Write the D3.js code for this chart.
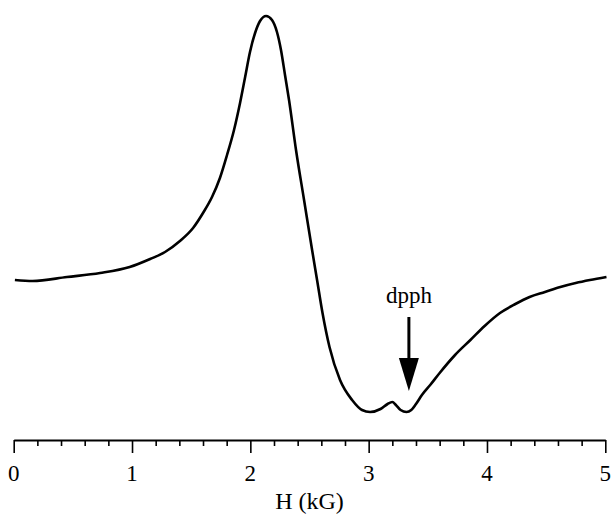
<!DOCTYPE html>
<html>
<head>
<meta charset="utf-8">
<script src="https://cdn.jsdelivr.net/npm/d3@7"></script>
<style>
  body { margin: 0; background: #fff; }
</style>
</head>
<body>
<div id="wrap"></div>
<script>
// field values (kG) and signal (arbitrary units)
var field = [0.01, 0.16, 0.45, 0.73, 0.98, 1.153, 1.279, 1.405, 1.516, 1.600, 1.676, 1.743, 1.803, 1.862, 1.913,
  1.956, 1.997, 2.040, 2.082, 2.133, 2.183, 2.225, 2.259, 2.293, 2.327, 2.386, 2.454, 2.522, 2.564, 2.610,
  2.669, 2.758, 2.860, 2.944, 3.012, 3.10, 3.16, 3.20, 3.23, 3.27, 3.32, 3.36, 3.40, 3.45, 3.52, 3.60,
  3.73, 3.86, 3.98, 4.11, 4.24, 4.36, 4.49, 4.62, 4.75, 4.87, 5.01];
var signal = [0.00, -0.01, 0.03, 0.07, 0.13, 0.21, 0.28, 0.39, 0.52, 0.67, 0.83, 1.02, 1.25, 1.50, 1.77,
  2.03, 2.28, 2.47, 2.59, 2.64, 2.60, 2.48, 2.30, 2.05, 1.80, 1.30, 0.80, 0.30, 0.00, -0.33,
  -0.67, -1.00, -1.20, -1.30, -1.32, -1.29, -1.24, -1.22, -1.25, -1.30, -1.32, -1.30, -1.24, -1.15, -1.05, -0.93,
  -0.75, -0.60, -0.46, -0.33, -0.24, -0.17, -0.12, -0.07, -0.03, 0.00, 0.03];
var tickLabels = [0, 1, 2, 3, 4, 5];
var marker = { h: 3.34, label: "dpph" };

var w = 611;
var h = 519;
var serif = "Liberation Serif";

var svg = d3.select("#wrap").append("svg").attr("width", w).attr("height", h);

var x = d3.scaleLinear().domain([0, 5]).range([13.7, 605.3]);
var y = d3.scaleLinear().domain([0, 1]).range([280, 180]);

var line = d3.line()
  .x(function(d, i) { return x(field[i]); })
  .y(function(d, i) { return y(signal[i]); })
  .curve(d3.curveMonotoneX);

svg.append("path")
  .datum(field)
  .attr("d", line)
  .attr("fill", "none")
  .attr("stroke", "#000")
  .attr("stroke-width", 2.6)
  .attr("stroke-linejoin", "round");

// axis: minor ticks every 0.2, long ticks on whole numbers
var minor = d3.range(0, 26).map(function(i) { return i / 5; });
var axis = svg.append("g").attr("transform", "translate(0,440)");
axis.call(d3.axisBottom(x).tickValues(minor).tickSizeOuter(0).tickFormat(""));
axis.select(".domain").attr("stroke-width", 2);
axis.selectAll(".tick line")
  .attr("stroke-width", 1.6)
  .attr("y2", function(d) { return Math.abs(d - Math.round(d)) < 1e-6 ? 13 : 6; });

svg.selectAll(".lbl").data(tickLabels).enter().append("text")
  .attr("class", "lbl")
  .attr("x", function(d) { return x(d); })
  .attr("y", 481)
  .attr("text-anchor", "middle")
  .attr("font-family", serif)
  .attr("font-size", 23)
  .text(function(d) { return d; });

svg.append("text")
  .attr("x", x(2.5))
  .attr("y", 509)
  .attr("text-anchor", "middle")
  .attr("font-family", serif)
  .attr("font-size", 24)
  .text("H (kG)");

// dpph marker arrow
var ax = x(marker.h);
svg.append("line")
  .attr("x1", ax).attr("x2", ax)
  .attr("y1", 317).attr("y2", 362)
  .attr("stroke", "#000").attr("stroke-width", 3);
svg.append("path")
  .attr("d", "M" + (ax - 10) + ",358L" + (ax + 10) + ",358L" + ax + ",391Z")
  .attr("fill", "#000");
svg.append("text")
  .attr("x", ax)
  .attr("y", 303)
  .attr("text-anchor", "middle")
  .attr("font-family", serif)
  .attr("font-size", 23)
  .text(marker.label);
</script>
</body>
</html>
